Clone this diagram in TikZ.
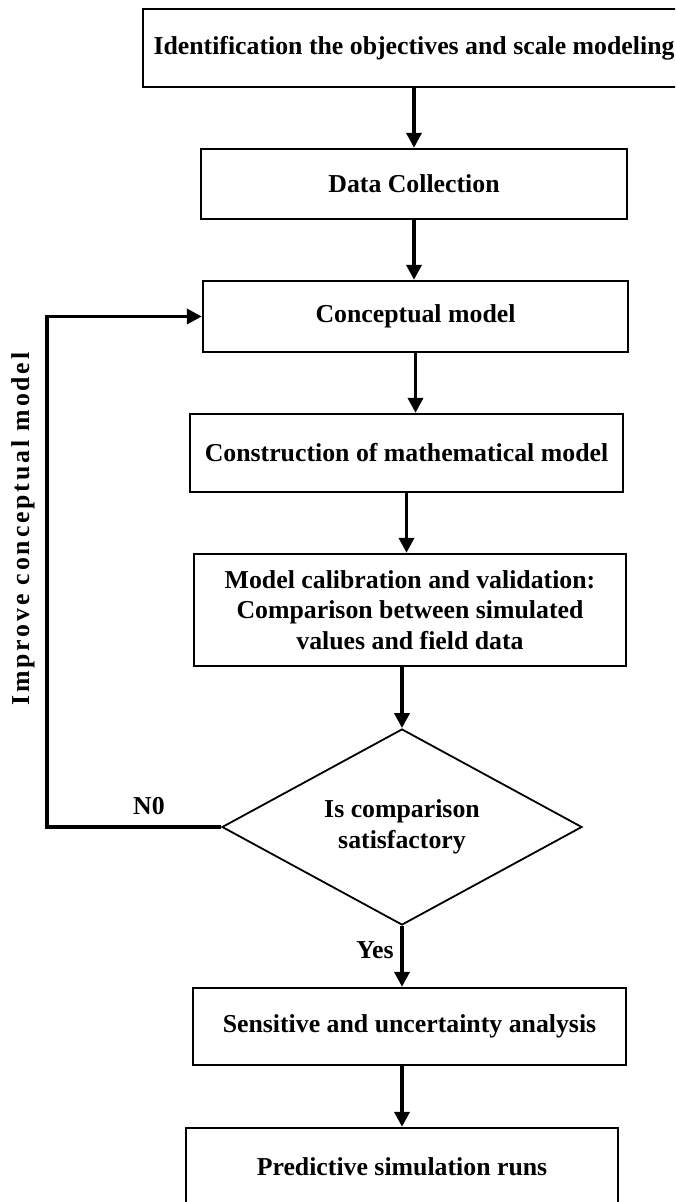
\documentclass[tikz,border=0pt]{standalone}
\usepackage{fontspec}
\setmainfont{Liberation Serif}
\usetikzlibrary{arrows.meta,positioning,shapes.geometric}

\begin{document}
\begin{tikzpicture}[x=0.5pt,y=-0.5pt,
  stepbox/.style={draw,line width=1.2pt,align=center,inner sep=2pt,
    font=\fontsize{12.9}{15.3}\selectfont\bfseries},
  decbox/.style={draw,diamond,aspect=2,line width=0.9pt,align=center,inner sep=1pt,
    minimum width=180pt,minimum height=98pt,font=\fontsize{12.9}{15.3}\selectfont\bfseries},
  flow/.style={line width=1.8pt,-{Triangle[length=7.5pt,width=7.5pt]}},
  lbl/.style={font=\fontsize{12.9}{15.3}\selectfont\bfseries}
]
  \clip (0,0) rectangle (675,1202);
  % Main column
  \node[stepbox,minimum width=271pt,minimum height=39pt] (ident) at (414,48)
    {Identification the objectives and scale modeling};
  \node[stepbox,minimum width=213pt,minimum height=35pt] (data) at (414,184)
    {Data Collection};
  \node[stepbox,minimum width=212.5pt,minimum height=35.5pt] (concept) at (415.5,316.5)
    {Conceptual model};
  \node[stepbox,minimum width=216.5pt,minimum height=39pt] (mathmod) at (406.5,453)
    {Construction of mathematical model};
  \node[stepbox,minimum width=216pt,minimum height=56pt] (calib) at (410,610)
    {Model calibration and validation:\\Comparison between simulated\\values and field data};
  % Decision
  \node[decbox] (decision) at (402,827) {Is comparison\\satisfactory};
  \node[stepbox,minimum width=216.5pt,minimum height=38.5pt] (sens) at (409.5,1026.5)
    {Sensitive and uncertainty analysis};
  \node[stepbox,minimum width=216pt,minimum height=39pt] (predict) at (402,1167)
    {Predictive simulation runs};
  % Arrows
  \draw[flow] (ident.south) -- (ident.south |- data.north);
  \draw[flow] (data.south) -- (data.south |- concept.north);
  \draw[flow] (concept.south) -- (concept.south |- mathmod.north);
  \draw[flow] (mathmod.south) -- (mathmod.south |- calib.north);
  \draw[flow] (decision.north |- calib.south) -- (decision.north);
  \draw[flow] (decision.south) -- (decision.south |- sens.north)
    node[lbl,left,pos=0.4] (yes) {Yes};
  \draw[flow] (decision.south |- sens.south) -- (decision.south |- predict.north);
  % Feedback loop
  \draw[flow] (decision.west) -- ++(-174,0) |- (concept.west);
  \node[lbl] (no) at (149,806) {N0};
  \node[lbl,rotate=90] (improve) at (23,529)
    {\addfontfeatures{LetterSpace=11}Improve conceptual model};
\end{tikzpicture}
\end{document}
